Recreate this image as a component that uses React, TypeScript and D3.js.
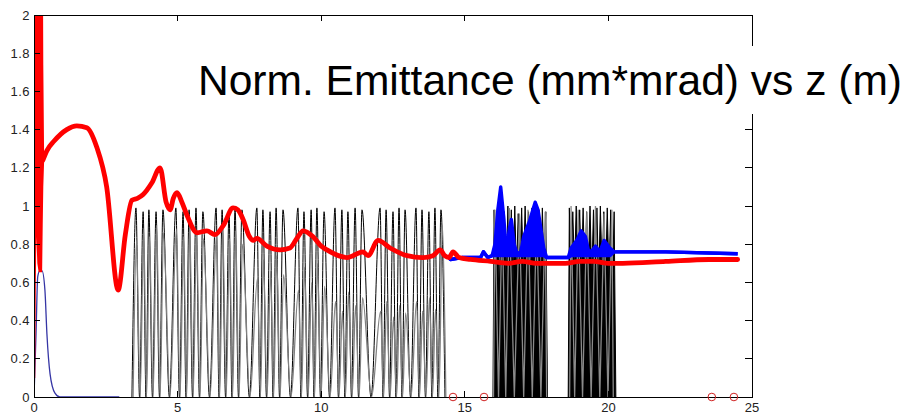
import React, { useEffect, useRef } from 'react'
import * as d3 from 'd3'

// chart frame (pixels of the 911x415 picture)
const width = 911
const height = 415
const plot = { left: 34, right: 752, top: 15, bottom: 397 }

const title = 'Norm. Emittance (mm*mrad) vs z (m)'

const xTicks = [0, 5, 10, 15, 20, 25]
const xTickLabels = ['0', '5', '10', '15', '20', '25']
const yTicks = [0, 0.2, 0.4, 0.6, 0.8, 1, 1.2, 1.4, 1.6, 1.8, 2]
const yTickLabels = ['0', '0.2', '0.4', '0.6', '0.8', '1', '1.2', '1.4', '1.6', '1.8', '2']

// red: emittance, start burst (z 0..0.3) as low/high envelope
const redBurstZ = [0, 0.02, 0.04, 0.12, 0.16, 0.2, 0.24, 0.26, 0.28, 0.31]
const redBurstLo = [0.1, 0.6, 0.86, 0.86, 0.7, 0.66, 0.66, 0.9, 1.1, 1.24]
const redBurstHi = [2.5, 2.5, 2.5, 2.5, 2.5, 2.5, 2.5, 2.5, 1.74, 1.24]

// red: emittance, main curve
const redZ = [0.31, 0.45, 0.7, 1.14, 1.49, 1.84, 2.18, 2.53, 2.93, 3.18, 3.41, 3.6, 3.8, 4.1, 4.39, 4.6, 4.74, 4.85, 4.98, 5.15, 5.33, 5.68, 6.02, 6.3, 6.6, 6.93, 7.1, 7.28, 7.5, 7.63, 7.76, 8.11, 8.57, 8.91, 9.15, 9.37, 9.71, 10.0, 10.2, 10.9, 11.46, 11.63, 11.98, 12.4, 12.99, 13.54, 13.89, 14.14, 14.3, 14.45, 14.59, 14.8, 15.2, 15.9, 16.5, 17.0, 17.5, 18.0, 18.5, 19.0, 19.5, 20.0, 20.5, 22.0, 23.5, 24.5]
const redV = [1.24, 1.29, 1.34, 1.4, 1.42, 1.41, 1.31, 1.1, 0.56, 0.85, 1.03, 1.04, 1.06, 1.12, 1.2, 1.02, 0.98, 1.04, 1.07, 1.02, 0.95, 0.86, 0.87, 0.85, 0.9, 0.99, 0.98, 0.93, 0.84, 0.82, 0.83, 0.79, 0.77, 0.78, 0.83, 0.87, 0.84, 0.79, 0.77, 0.73, 0.76, 0.74, 0.82, 0.78, 0.74, 0.73, 0.74, 0.77, 0.74, 0.73, 0.76, 0.73, 0.72, 0.71, 0.7, 0.71, 0.7, 0.7, 0.7, 0.71, 0.71, 0.7, 0.7, 0.71, 0.72, 0.72]

// blue thin: start of the second curve
const blueThinZ = [0, 0.07, 0.13, 0.2, 0.28, 0.38, 0.45, 0.56, 0.73, 0.9, 2.97]
const blueThinV = [0, 0.33, 0.63, 0.66, 0.66, 0.56, 0.33, 0.12, 0.02, 0, 0]

// blue thick: later part, low/high envelope of the fast oscillation
const blueZ = [14.4, 14.5, 14.9, 15.55, 15.65, 15.8, 15.95, 16.05, 16.15, 16.25, 16.35, 16.45, 16.55, 16.62, 16.72, 16.82, 16.95, 17.05, 17.15, 17.25, 17.45, 17.55, 17.65, 17.75, 17.85, 18.6, 18.7, 18.9, 19.05, 19.2, 19.3, 19.4, 19.55, 19.7, 19.85, 20.05, 20.2, 22.0, 24.5]
const blueLo = [0.74, 0.72, 0.73, 0.73, 0.76, 0.73, 0.74, 0.74, 0.74, 0.74, 0.74, 0.74, 0.74, 0.74, 0.74, 0.74, 0.74, 0.74, 0.74, 0.74, 0.74, 0.74, 0.74, 0.74, 0.73, 0.73, 0.74, 0.74, 0.74, 0.74, 0.74, 0.74, 0.74, 0.74, 0.74, 0.74, 0.76, 0.76, 0.75]
const blueHi = [0.74, 0.72, 0.73, 0.73, 0.76, 0.73, 0.74, 0.8, 0.98, 1.1, 0.95, 0.76, 0.88, 0.93, 0.8, 0.75, 0.76, 0.84, 0.88, 0.92, 1.02, 0.98, 0.88, 0.78, 0.73, 0.73, 0.78, 0.82, 0.87, 0.84, 0.77, 0.76, 0.79, 0.76, 0.82, 0.78, 0.76, 0.76, 0.75]

// lattice fields, spikes [z, height]
const blackSpikes = [
  [3.55, 0.99], [3.8, 0.97], [4.0, 0.98], [4.25, 0.97], [4.49, 0.98],
  [4.94, 0.99], [5.19, 0.97], [5.4, 0.98], [5.64, 0.99], [5.88, 0.97],
  [6.34, 0.99], [6.55, 0.98], [6.79, 0.97], [7.0, 0.99], [7.24, 0.98],
  [7.76, 0.99], [7.97, 0.98], [8.22, 0.97], [8.43, 0.99], [8.67, 0.98],
  [9.19, 0.99], [9.4, 0.97], [9.65, 0.98], [9.85, 0.99], [10.1, 0.97],
  [10.48, 0.99], [10.72, 0.98], [10.93, 0.97], [11.18, 0.99], [11.42, 0.98],
  [12.05, 0.99], [12.26, 0.98], [12.5, 0.97], [12.71, 0.99], [12.92, 0.98],
  [13.3, 0.99], [13.51, 0.98], [13.75, 0.97], [13.96, 0.99], [14.17, 0.98],
]
const graySpikes = [
  [3.57, 0.82], [3.82, 0.88], [4.02, 0.84], [4.27, 0.9], [4.51, 0.86],
  [4.96, 0.88], [5.21, 0.84], [5.42, 0.9], [5.66, 0.86], [5.9, 0.83],
  [6.36, 0.86], [6.57, 0.89], [6.81, 0.83], [7.02, 0.87], [7.26, 0.8],
  [7.78, 0.62], [7.99, 0.72], [8.24, 0.66], [8.45, 0.74], [8.69, 0.64],
  [9.21, 0.56], [9.42, 0.68], [9.67, 0.6], [9.87, 0.7], [10.12, 0.58],
  [10.5, 0.5], [10.74, 0.45], [10.95, 0.55], [11.2, 0.48], [11.44, 0.52],
  [12.07, 0.45], [12.28, 0.5], [12.52, 0.42], [12.73, 0.48], [12.94, 0.44],
  [13.32, 0.5], [13.53, 0.45], [13.77, 0.52], [13.98, 0.46], [14.22, 0.9],
]

// dense lattice blocks [z, value]
const denseBlock1 = [
  [15.98, 0], [16.02, 0.98], [16.08, 0.62], [16.14, 1.0], [16.2, 0.55], [16.26, 0.99], [16.32, 0.66], [16.38, 0.97],
  [16.44, 0.6], [16.5, 1.0], [16.56, 0.68], [16.62, 0.98], [16.68, 0.58], [16.74, 1.0], [16.8, 0.64], [16.86, 0.96],
  [16.92, 0.7], [16.98, 0.99], [17.04, 0.62], [17.1, 1.0], [17.16, 0.66], [17.22, 0.97], [17.28, 0.6], [17.34, 0.99],
  [17.4, 0.67], [17.46, 1.0], [17.52, 0.63], [17.58, 0.98], [17.64, 0.57], [17.7, 0.99], [17.76, 0.65], [17.82, 0.97], [17.88, 0],
]
const denseBlock2 = [
  [18.6, 0], [18.64, 0.99], [18.7, 0.62], [18.76, 0.97], [18.82, 0.66], [18.88, 1.0], [18.94, 0.58], [19.0, 0.98],
  [19.06, 0.64], [19.12, 0.99], [19.18, 0.6], [19.24, 0.97], [19.3, 0.67], [19.36, 1.0], [19.42, 0.61], [19.48, 0.98],
  [19.54, 0.65], [19.6, 0.99], [19.66, 0.59], [19.72, 1.0], [19.78, 0.66], [19.84, 0.97], [19.9, 0.62], [19.96, 0.99],
  [20.02, 0.64], [20.08, 0.98], [20.14, 0.6], [20.2, 0.97], [20.26, 0],
]
const denseGray1 = [[16.05, 0.98], [16.3, 0.97], [16.55, 0.99], [16.9, 0.96], [17.2, 0.98], [17.5, 0.95], [17.8, 0.97]]
const denseGray2 = [[18.7, 1.0], [18.95, 0.98], [19.25, 0.97], [19.55, 1.0], [19.85, 0.96], [20.12, 0.98]]

// markers on the axis
const markerZ = [14.59, 15.67, 23.6, 24.37]

// spikes -> polyline with troughs half way between
const spikeTrace = (spikes: number[][], pad: number) => {
  const pts: [number, number][] = [[spikes[0][0] - pad, 0]]
  spikes.forEach((s, i) => {
    if (i > 0) pts.push([(spikes[i - 1][0] + s[0]) / 2, 0])
    pts.push([s[0], s[1]])
  })
  pts.push([spikes[spikes.length - 1][0] + pad, 0])
  return pts
}

const Chart = () => {
  const ref = useRef<SVGSVGElement>(null)

  useEffect(() => {
    const svg = d3.select(ref.current)
    svg.selectAll('*').remove()

    const x = d3.scaleLinear().domain([0, 25]).range([plot.left, plot.right])
    const y = d3.scaleLinear().domain([0, 2]).range([plot.bottom, plot.top])

    svg.append('rect').attr('width', width).attr('height', height).attr('fill', '#fff')

    svg.append('clipPath').attr('id', 'plotclip')
      .append('rect')
      .attr('x', plot.left).attr('y', plot.top)
      .attr('width', plot.right - plot.left).attr('height', plot.bottom - plot.top)

    const g = svg.append('g').attr('clip-path', 'url(#plotclip)')

    const line = d3.line<number[]>().x(d => x(d[0])).y(d => y(d[1]))
    const smooth = d3.line<number[]>().x(d => x(d[0])).y(d => y(d[1])).curve(d3.curveMonotoneX)

    // lattice, sparse part
    g.append('path').attr('d', smooth(spikeTrace(blackSpikes, 0.14)))
      .attr('fill', 'none').attr('stroke', '#000').attr('stroke-width', 1)
    g.append('path').attr('d', smooth(spikeTrace(graySpikes, 0.12)))
      .attr('fill', 'none').attr('stroke', '#808080').attr('stroke-width', 1.3)

    // lattice, dense blocks
    const denseArea = d3.area<number[]>().x(d => x(d[0])).y0(y(0)).y1(d => y(d[1]))
    ;[denseBlock1, denseBlock2].forEach(block => {
      g.append('path').attr('d', denseArea(block)).attr('fill', '#000')
        .attr('stroke', '#000').attr('stroke-width', 1)
    })
    ;[denseGray1, denseGray2].forEach(sp => {
      g.append('path').attr('d', line(spikeTrace(sp, 0.05)))
        .attr('fill', 'none').attr('stroke', '#8a8a8a').attr('stroke-width', 1.3)
    })

    // blue thin start
    g.append('path').attr('d', smooth(blueThinZ.map((z, i) => [z, blueThinV[i]])))
      .attr('fill', 'none').attr('stroke', '#3535a5').attr('stroke-width', 1.3)

    // blue thick with envelope
    const blueArea = d3.area<number>().x(i => x(blueZ[i])).y0(i => y(blueLo[i])).y1(i => y(blueHi[i]))
    const idx = d3.range(blueZ.length)
    g.append('path').attr('d', blueArea(idx)).attr('fill', '#0000ff')
    g.append('path').attr('d', line(blueZ.map((z, i) => [z, blueHi[i]])))
      .attr('fill', 'none').attr('stroke', '#0000ff').attr('stroke-width', 3.4).attr('stroke-linejoin', 'round')
    g.append('path').attr('d', line(blueZ.map((z, i) => [z, blueLo[i]])))
      .attr('fill', 'none').attr('stroke', '#0000ff').attr('stroke-width', 3.4).attr('stroke-linejoin', 'round')

    // red burst + main curve
    const redArea = d3.area<number>().x(i => x(redBurstZ[i])).y0(i => y(redBurstLo[i])).y1(i => y(redBurstHi[i]))
    g.append('path').attr('d', redArea(d3.range(redBurstZ.length)))
      .attr('fill', '#ff0000').attr('stroke', '#ff0000').attr('stroke-width', 2.5)
    g.append('path').attr('d', smooth(redZ.map((z, i) => [z, redV[i]])))
      .attr('fill', 'none').attr('stroke', '#ff0000').attr('stroke-width', 4.8)
      .attr('stroke-linejoin', 'round').attr('stroke-linecap', 'round')

    // frame + ticks
    svg.append('rect')
      .attr('x', plot.left).attr('y', plot.top)
      .attr('width', plot.right - plot.left).attr('height', plot.bottom - plot.top)
      .attr('fill', 'none').attr('stroke', '#000').attr('stroke-width', 1)
      .attr('shape-rendering', 'crispEdges')

    const ticks = svg.append('g').attr('stroke', '#000').attr('shape-rendering', 'crispEdges')
    xTicks.forEach(t => {
      ticks.append('line').attr('x1', x(t)).attr('x2', x(t)).attr('y1', plot.bottom).attr('y2', plot.bottom - 6)
      ticks.append('line').attr('x1', x(t)).attr('x2', x(t)).attr('y1', plot.top).attr('y2', plot.top + 6)
    })
    yTicks.forEach(t => {
      ticks.append('line').attr('x1', plot.left).attr('x2', plot.left + 6).attr('y1', y(t)).attr('y2', y(t))
      ticks.append('line').attr('x1', plot.right).attr('x2', plot.right - 7).attr('y1', y(t)).attr('y2', y(t))
    })

    const font = '"Liberation Sans", Arial, sans-serif'
    svg.append('g').selectAll('text').data(xTicks).enter().append('text')
      .attr('x', d => x(d)).attr('y', plot.bottom + 15)
      .attr('text-anchor', 'middle').attr('font-family', font).attr('font-size', 13).attr('fill', '#222')
      .text((d, i) => xTickLabels[i])
    svg.append('g').selectAll('text').data(yTicks).enter().append('text')
      .attr('x', plot.left - 4).attr('y', d => y(d) + 4.5)
      .attr('text-anchor', 'end').attr('font-family', font).attr('font-size', 13)
      .attr('letter-spacing', 0.5).attr('fill', '#222')
      .text((d, i) => yTickLabels[i])

    // markers on the axis
    svg.append('g').selectAll('circle').data(markerZ).enter().append('circle')
      .attr('cx', d => x(d)).attr('cy', y(0)).attr('r', 3.8)
      .attr('fill', 'none').attr('stroke', '#d02020').attr('stroke-width', 1)

    // title on white box
    svg.append('rect').attr('x', 188).attr('y', 46).attr('width', 723).attr('height', 68).attr('fill', '#fff')
    svg.append('text').attr('x', 198).attr('y', 95)
      .attr('font-family', font).attr('font-size', 43).attr('fill', '#000')
      .attr('textLength', 704).attr('lengthAdjust', 'spacingAndGlyphs')
      .text(title)
  }, [])

  return (
    <svg
      ref={ref}
      width={width}
      height={height}
      style={{ position: 'absolute', left: 0, top: 0, display: 'block' }}
    ></svg>
  )
}

export default function App() {
  return <Chart />
}
